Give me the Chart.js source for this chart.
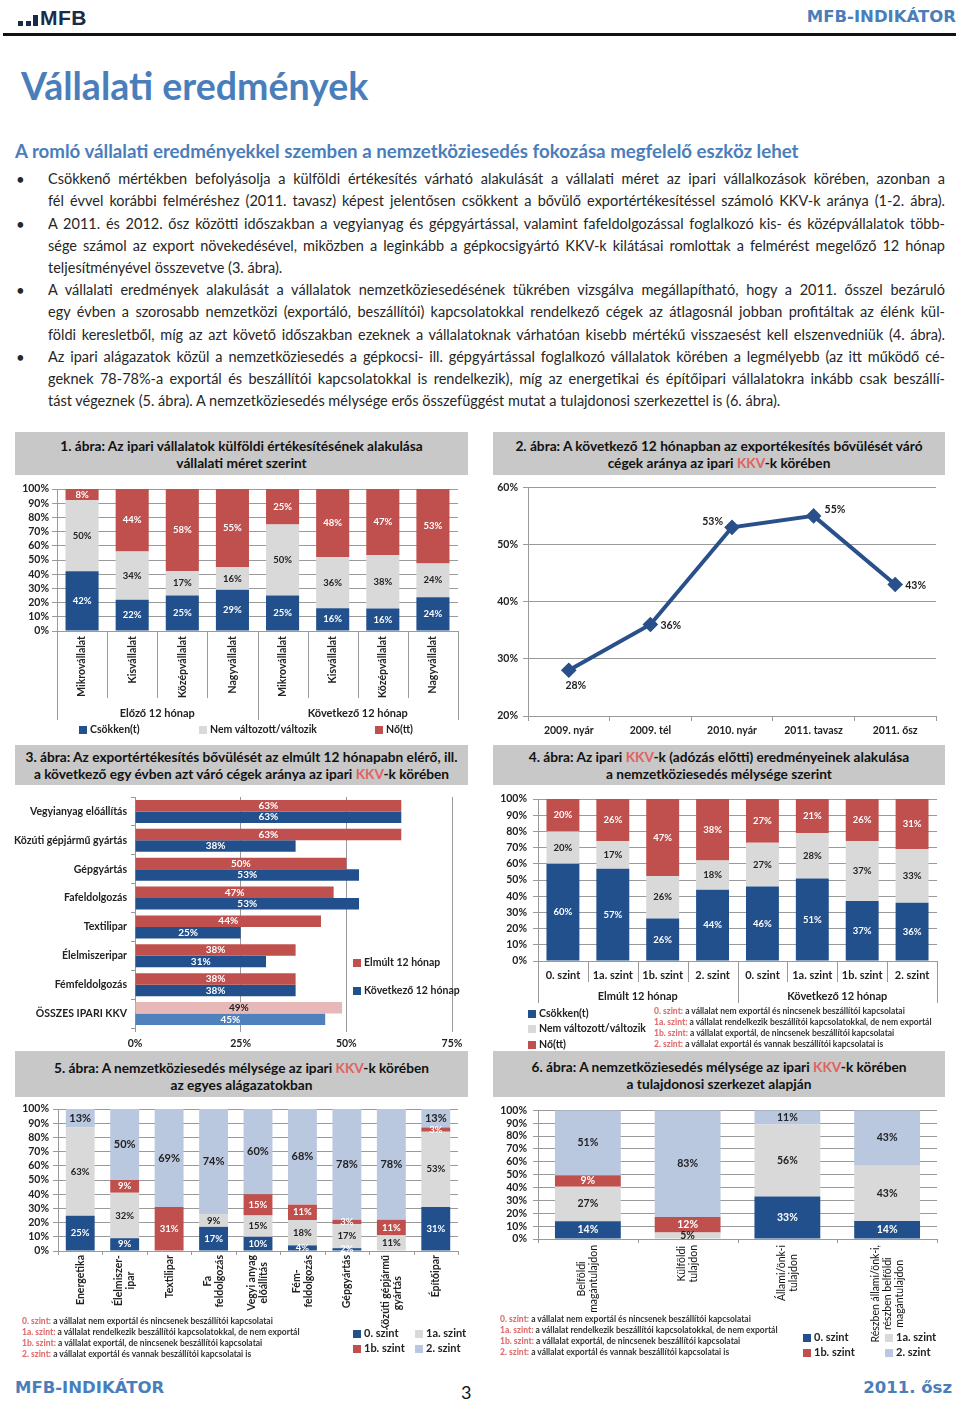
<!DOCTYPE html>
<html lang="hu"><head><meta charset="utf-8">
<script src="https://cdn.jsdelivr.net/npm/chart.js@4.4.1/dist/chart.umd.min.js"></script>
<style>
*{box-sizing:border-box}
html,body{margin:0;padding:0}
body{width:960px;height:1401px;position:relative;background:#fff;font-family:Lato,"Open Sans",sans-serif;color:#222;overflow:hidden}
.a{position:absolute;white-space:nowrap}
.hdr{font-family:"DejaVu Sans",Verdana,sans-serif;font-weight:bold;color:#4a7ebb;font-size:16.5px;line-height:18px}
.tbox{position:absolute;background:#c8c8c8;text-align:center;font-weight:bold;font-size:13.7px;line-height:17px;color:#111;white-space:nowrap}
.kkv{color:#e0625f}
.ln{position:absolute;left:48px;width:897px;height:22px;line-height:22px;font-size:14.5px;white-space:nowrap;text-align:justify;text-align-last:justify;color:#262626}
.ln.last{text-align-last:left}
.bul{position:absolute;left:16px;font-size:15px;line-height:22px;color:#262626}
canvas{position:absolute}
.lg{position:absolute;font-weight:bold;font-size:10.5px;line-height:12px;white-space:nowrap;color:#222}
.lg i{display:inline-block;width:8px;height:8px;margin-right:3px;vertical-align:-0.5px}
.fn{position:absolute;font-size:8.5px;font-weight:bold;line-height:11px;white-space:nowrap;color:#333}
.fn b{color:#e07070}
</style>
</head>
<body>
<!-- header -->
<div class="a" style="left:18px;top:21px;width:5px;height:5px;background:#1b2a47"></div>
<div class="a" style="left:26px;top:21px;width:5px;height:5px;background:#1b2a47"></div>
<div class="a" style="left:33px;top:15px;width:5px;height:11px;background:#1b2a47"></div>
<div class="a" style="left:40px;top:6px;font:bold 21px 'Liberation Sans',Arial,sans-serif;line-height:24px;color:#1b2a47;letter-spacing:0.5px">MFB</div>
<div class="a hdr" style="right:4px;top:8px">MFB-INDIKÁTOR</div>
<div class="a" style="left:3px;top:33px;width:953px;height:3px;background:#111"></div>

<div class="a" style="left:21px;top:62px;font-size:37.5px;font-weight:bold;color:#4a7ebb;line-height:48px">Vállalati eredmények</div>
<div class="a" style="left:15px;top:140px;font-size:18.7px;font-weight:bold;color:#4a7ebb;line-height:22px">A romló vállalati eredményekkel szemben a nemzetköziesedés fokozása megfelelő eszköz lehet</div>

<div class="bul" style="top:168px">•</div>
<div class="ln" style="top:168px">Csökkenő mértékben befolyásolja a külföldi értékesítés várható alakulását a vállalati méret az ipari vállalkozások körében, azonban a</div>
<div class="ln" style="top:190px">fél évvel korábbi felméréshez (2011. tavasz) képest jelentősen csökkent a bővülő exportértékesítéssel számoló KKV-k aránya (1-2. ábra).</div>
<div class="bul" style="top:213px">•</div>
<div class="ln" style="top:213px">A 2011. és 2012. ősz közötti időszakban a vegyianyag és gépgyártással, valamint fafeldolgozással foglalkozó kis- és középvállalatok több-</div>
<div class="ln" style="top:235px">sége számol az export növekedésével, miközben a leginkább a gépkocsigyártó KKV-k kilátásai romlottak a felmérést megelőző 12 hónap</div>
<div class="ln last" style="top:257px">teljesítményével összevetve (3. ábra).</div>
<div class="bul" style="top:279px">•</div>
<div class="ln" style="top:279px">A vállalati eredmények alakulását a vállalatok nemzetköziesedésének tükrében vizsgálva megállapítható, hogy a 2011. ősszel bezáruló</div>
<div class="ln" style="top:301px">egy évben a szorosabb nemzetközi (exportáló, beszállítói) kapcsolatokkal rendelkező cégek az átlagosnál jobban profitáltak az élénk kül-</div>
<div class="ln" style="top:324px">földi keresletből, míg az azt követő időszakban ezeknek a vállalatoknak várhatóan kisebb mértékű visszaesést kell elszenvedniük (4. ábra).</div>
<div class="bul" style="top:346px">•</div>
<div class="ln" style="top:346px">Az ipari alágazatok közül a nemzetköziesedés a gépkocsi- ill. gépgyártással foglalkozó vállalatok körében a legmélyebb (az itt működő cé-</div>
<div class="ln" style="top:368px">geknek 78-78%-a exportál és beszállítói kapcsolatokkal is rendelkezik), míg az energetikai és építőipari vállalatokra inkább csak beszállí-</div>
<div class="ln last" style="top:390px">tást végeznek (5. ábra). A nemzetköziesedés mélysége erős összefüggést mutat a tulajdonosi szerkezettel is (6. ábra).</div>

<!-- chart titles -->
<div class="tbox" style="left:15px;top:432px;width:453px;height:43px;padding-top:5px">1. ábra: Az ipari vállalatok  külföldi értékesítésének alakulása<br>vállalati méret szerint</div>
<div class="tbox" style="left:493px;top:432px;width:452px;height:43px;padding-top:5px">2. ábra: A következő 12 hónapban  az exportékesítés bővülését váró<br>cégek aránya az ipari <span class="kkv">KKV</span>-k körében</div>
<div class="tbox" style="left:15px;top:745px;width:453px;height:40px;padding-top:2.5px">3. ábra: Az exportértékesítés bővülését az elmúlt 12 hónapabn elérő, ill.<br>a következő egy évben azt váró cégek aránya az ipari <span class="kkv">KKV</span>-k körében</div>
<div class="tbox" style="left:493px;top:745px;width:452px;height:40px;padding-top:2.5px">4. ábra: Az ipari <span class="kkv">KKV</span>-k (adózás előtti) eredményeinek alakulása<br>a nemzetköziesedés  mélysége szerint</div>
<div class="tbox" style="left:15px;top:1051px;width:453px;height:46px;padding-top:7.5px">5. ábra: A nemzetköziesedés  mélysége az ipari <span class="kkv">KKV</span>-k körében<br>az egyes alágazatokban</div>
<div class="tbox" style="left:493px;top:1051px;width:452px;height:46px;padding-top:7px">6. ábra: A nemzetköziesedés  mélysége az ipari <span class="kkv">KKV</span>-k körében<br>a tulajdonosi  szerkezet alapján</div>

<canvas id="c1" width="455" height="250" style="left:15px;top:476px;width:455px;height:250px"></canvas>
<canvas id="c2" width="452" height="262" style="left:493px;top:476px;width:452px;height:262px"></canvas>
<canvas id="c3" width="470" height="265" style="left:5px;top:786px;width:470px;height:265px"></canvas>
<canvas id="c4" width="452" height="222" style="left:493px;top:786px;width:452px;height:222px"></canvas>
<canvas id="c5" width="455" height="230" style="left:15px;top:1098px;width:455px;height:230px"></canvas>
<canvas id="c6" width="452" height="245" style="left:493px;top:1098px;width:452px;height:245px"></canvas>

<!-- legends -->
<div class="lg" style="left:79px;top:723px"><i style="background:#22508c"></i>Csökken(t)</div>
<div class="lg" style="left:199px;top:723px"><i style="background:#d9d9d9"></i>Nem változott/változik</div>
<div class="lg" style="left:375px;top:723px"><i style="background:#c0504d"></i>Nő(tt)</div>

<div class="lg" style="left:353px;top:956px"><i style="background:#c0504d"></i>Elmúlt 12  hónap</div>
<div class="lg" style="left:353px;top:984px"><i style="background:#22508c"></i>Következő 12 hónap</div>

<div class="lg" style="left:528px;top:1007px;font-size:10.5px"><i style="background:#22508c"></i>Csökken(t)</div>
<div class="lg" style="left:528px;top:1022px;font-size:10.5px"><i style="background:#d9d9d9"></i>Nem változott/változik</div>
<div class="lg" style="left:528px;top:1038px;font-size:10.5px"><i style="background:#c0504d"></i>Nő(tt)</div>
<div class="fn" style="left:654px;top:1006px"><b>0. szint:</b> a vállalat  nem exportál és nincsenek beszállítói  kapcsolatai</div>
<div class="fn" style="left:654px;top:1017px"><b>1a. szint:</b> a vállalat  rendelkezik beszállítói  kapcsolatokkal,  de nem exportál</div>
<div class="fn" style="left:654px;top:1028px"><b>1b. szint:</b> a vállalat  exportál, de nincsenek beszállítói  kapcsolatai</div>
<div class="fn" style="left:654px;top:1039px"><b>2. szint:</b> a vállalat  exportál és vannak beszállítói  kapcsolatai  is</div>

<div class="fn" style="left:22px;top:1316px"><b>0. szint:</b> a vállalat  nem exportál és nincsenek beszállítói  kapcsolatai</div>
<div class="fn" style="left:22px;top:1327px"><b>1a. szint:</b> a vállalat  rendelkezik beszállítói  kapcsolatokkal,  de nem exportál</div>
<div class="fn" style="left:22px;top:1338px"><b>1b. szint:</b> a vállalat  exportál, de nincsenek beszállítói  kapcsolatai</div>
<div class="fn" style="left:22px;top:1349px"><b>2. szint:</b> a vállalat  exportál és vannak beszállítói  kapcsolatai  is</div>
<div class="lg" style="left:353px;top:1327px;font-size:11px"><i style="background:#22508c"></i>0. szint</div>
<div class="lg" style="left:415px;top:1327px;font-size:11px"><i style="background:#d9d9d9"></i>1a. szint</div>
<div class="lg" style="left:353px;top:1342px;font-size:11px"><i style="background:#c0504d"></i>1b. szint</div>
<div class="lg" style="left:415px;top:1342px;font-size:11px"><i style="background:#b9c7df"></i>2. szint</div>

<div class="fn" style="left:500px;top:1314px"><b>0. szint:</b> a vállalat  nem exportál és nincsenek beszállítói  kapcsolatai</div>
<div class="fn" style="left:500px;top:1325px"><b>1a. szint:</b> a vállalat  rendelkezik beszállítói  kapcsolatokkal,  de nem exportál</div>
<div class="fn" style="left:500px;top:1336px"><b>1b. szint:</b> a vállalat  exportál, de nincsenek beszállítói  kapcsolatai</div>
<div class="fn" style="left:500px;top:1347px"><b>2. szint:</b> a vállalat  exportál és vannak beszállítói  kapcsolatai  is</div>
<div class="lg" style="left:803px;top:1331px;font-size:11px"><i style="background:#22508c"></i>0. szint</div>
<div class="lg" style="left:885px;top:1331px;font-size:11px"><i style="background:#d9d9d9"></i>1a. szint</div>
<div class="lg" style="left:803px;top:1346px;font-size:11px"><i style="background:#c0504d"></i>1b. szint</div>
<div class="lg" style="left:885px;top:1346px;font-size:11px"><i style="background:#b9c7df"></i>2. szint</div>

<!-- footer -->
<div class="a hdr" style="left:15px;top:1379px">MFB-INDIKÁTOR</div>
<div class="a" style="left:461px;top:1381px;font-size:18px;line-height:22px;color:#111">3</div>
<div class="a hdr" style="right:8px;top:1379px">2011. ősz</div>

<script>
// ---------- DATA ----------
const c1Categories = ['Mikrovállalat','Kisvállalat','Középvállalat','Nagyvállalat','Mikrovállalat','Kisvállalat','Középvállalat','Nagyvállalat'];
const c1Groups = ['Előző 12 hónap','Következő 12 hónap'];
const c1Csokken = [42,22,25,29,25,16,16,24];
const c1NemValt = [50,34,17,16,50,36,38,24];
const c1No = [8,44,58,55,25,48,47,53];

const c2Periods = ['2009. nyár','2009. tél','2010. nyár','2011. tavasz','2011. ősz'];
const c2Share = [28,36,53,55,43];

const c3Sectors = ['Vegyianyag előállítás','Közúti gépjármű gyártás','Gépgyártás','Fafeldolgozás','Textilipar','Élelmiszeripar','Fémfeldolgozás','ÖSSZES IPARI KKV'];
const c3Elmult = [63,63,50,47,44,38,38,49];
const c3Kovetkezo = [63,38,53,53,25,31,38,45];

const c4Levels = ['0. szint','1a. szint','1b. szint','2. szint','0. szint','1a. szint','1b. szint','2. szint'];
const c4Groups = ['Elmúlt 12 hónap','Következő 12 hónap'];
const c4Csokken = [60,57,26,44,46,51,37,36];
const c4NemValt = [20,17,26,18,27,28,37,33];
const c4No = [20,26,47,38,27,21,26,31];

const c5Sectors = [['Energetika'],['Élelmiszer-','ipar'],['Textilipar'],['Fa','feldolgozás'],['Vegyi anyag','előállítás'],['Fém-','feldolgozás'],['Gépgyártás'],['Közúti gépjármű','gyártás'],['Építőipar']];
const c5Szint0 = [25,9,0,17,10,4,2,0,31];
const c5Szint1a = [63,32,0,9,15,18,17,11,53];
const c5Szint1b = [0,9,31,0,15,11,3,11,3];
const c5Szint2 = [13,50,69,74,60,68,78,78,13];

const c6Owners = [['Belföldi','magántulajdon'],['Külföldi','tulajdon'],['Állami/önk-i','tulajdon'],['Részben állami/önk-i,','részben belföldi','magántulajdon']];
const c6Szint0 = [14,0,33,14];
const c6Szint1a = [27,5,56,43];
const c6Szint1b = [9,12,0,0];
const c6Szint2 = [51,83,11,43];

// ---------- STYLE ----------
const BLUE='#22508c', GRAY='#d9d9d9', RED='#c0504d', LBLUE='#b9c7df', PINK='#e6b9b8', MBLUE='#4f81bd', LINE='#29508a';
const GRID='#9a9a9a';
const FF='Lato, "Open Sans", sans-serif';

// fit body lines
document.querySelectorAll('.ln').forEach(d => {
  const s=document.createElement('span'); s.textContent=d.textContent;
  s.style.cssText='position:absolute;visibility:hidden;white-space:nowrap;left:0;top:0';
  d.appendChild(s); const w=s.getBoundingClientRect().width; d.removeChild(s);
  if (w>895) d.style.letterSpacing=((895-w)/d.textContent.length)+'px';
});

function normalize(list){
  return list.map(s => s.map((v,i) => { const t=list.reduce((a,b)=>a+b[i],0); return t ? v/t*100 : 0; }));
}

const catCfg = {};
const catAxis = {
  id:'catAxis',
  afterDraw(chart){
    const o = catCfg[chart.canvas.id]; if(!o) return;
    const ctx=chart.ctx, xs=chart.scales.x, area=chart.chartArea;
    const labels=chart.data.labels, n=labels.length;
    const c=labels.map((_,i)=>xs.getPixelForValue(i));
    const step = n>1 ? c[1]-c[0] : area.right-area.left;
    const b=[]; for(let i=0;i<=n;i++) b.push(i<n ? c[i]-step/2 : c[n-1]+step/2);
    const y0=area.bottom;
    ctx.save();
    ctx.strokeStyle=GRID; ctx.lineWidth=1;
    const vline=(x,y1,y2)=>{const px=Math.round(x)+0.5; ctx.beginPath(); ctx.moveTo(px,y1); ctx.lineTo(px,y2); ctx.stroke();};
    b.forEach(x=>vline(x,y0,y0+o.sepLen));
    if(o.groups){ const k=n/o.groups.length; for(let g=0;g<=o.groups.length;g++) vline(b[g*k],y0,y0+o.groupSepLen); }
    ctx.fillStyle=o.color||'#222'; ctx.font=o.font;
    labels.forEach((lab,i)=>{
      const lines=Array.isArray(lab)?lab:[lab];
      if(o.rotated){
        const L=Math.max(...lines.map(t=>ctx.measureText(t).width));
        ctx.save(); ctx.translate(c[i], y0+o.labelOffset); ctx.rotate(-Math.PI/2);
        ctx.textAlign='center'; ctx.textBaseline='middle';
        lines.forEach((t,j)=>ctx.fillText(t,-L/2,(j-(lines.length-1)/2)*o.lineHeight));
        ctx.restore();
      } else {
        ctx.textAlign='center'; ctx.textBaseline='middle';
        ctx.fillText(lines[0], c[i], y0+o.labelOffset);
      }
    });
    if(o.groups){
      ctx.font=o.groupFont||o.font; ctx.textAlign='center'; ctx.textBaseline='middle';
      const k=n/o.groups.length;
      o.groups.forEach((g,gi)=>ctx.fillText(g,(b[gi*k]+b[(gi+1)*k])/2,y0+o.groupOffset));
    }
    ctx.restore();
  }
};

const valLabels = {
  id:'valLabels',
  afterDatasetsDraw(chart, args, o){
    if(!o || !o.enabled) return;
    const ctx=chart.ctx, horiz=chart.options.indexAxis==='y';
    chart.data.datasets.forEach((ds,di)=>{
      const meta=chart.getDatasetMeta(di);
      const shown=ds.shown||ds.data;
      meta.data.forEach((el,i)=>{
        const v=shown[i]; if(v==null||v===0) return;
        const p=el.getProps(['x','y','base'],true);
        let cx,cy,align='center';
        if(meta.type==='line'){ const lp=ds.labelPos[i]; cx=p.x+lp[0]; cy=p.y+lp[1]; align=lp[2]; }
        else if(horiz){ cx=(p.x+p.base)/2; cy=p.y; }
        else { cx=p.x; cy=(p.y+p.base)/2; }
        ctx.save();
        ctx.font=ds.labelFont||o.font;
        ctx.fillStyle=Array.isArray(ds.labelColor)?ds.labelColor[i]:ds.labelColor;
        ctx.textAlign=align; ctx.textBaseline='middle';
        ctx.fillText(Math.round(v)+'%',cx,cy);
        ctx.restore();
      });
    });
  }
};
Chart.register(catAxis, valLabels);

const tickFont = {family:FF,size:10.5,weight:'bold'};
function pctY(width,pad){ return {stacked:true,min:0,max:100,ticks:{stepSize:10,autoSkip:false,callback:v=>v+'%',font:tickFont,color:'#222',padding:pad},grid:{color:GRID,tickLength:5},border:{color:GRID},afterFit(s){s.width=width;}}; }
function hiddenX(h){ return {stacked:true,ticks:{display:false},grid:{display:false},border:{display:false},afterFit(s){s.height=h;}}; }
function baseOpts(pad, extra){ return Object.assign({responsive:false,animation:false,events:[],layout:{padding:pad},plugins:{legend:{display:false},tooltip:{enabled:false},valLabels:{enabled:true,font:'bold 9.5px '+FF}}}, extra); }

// Chart 1
const n1 = normalize([c1Csokken,c1NemValt,c1No]);
catCfg.c1 = {rotated:true,labelOffset:5,lineHeight:12,font:'bold 10.5px '+FF,sepLen:67,groups:c1Groups,groupSepLen:89,groupOffset:82,groupFont:'bold 11px '+FF};
new Chart(document.getElementById('c1'),{type:'bar',
  data:{labels:c1Categories,datasets:[
    {label:'Csökken(t)',data:n1[0],shown:c1Csokken,backgroundColor:BLUE,labelColor:'#fff'},
    {label:'Nem változott/változik',data:n1[1],shown:c1NemValt,backgroundColor:GRAY,labelColor:'#222'},
    {label:'Nő(tt)',data:n1[2],shown:c1No,backgroundColor:RED,labelColor:'#fff'}]},
  options:baseOpts({top:13,right:12,left:0,bottom:0},{datasets:{bar:{categoryPercentage:0.66,barPercentage:1}},scales:{x:hiddenX(95),y:pctY(42,3)}})
});

// Chart 2
new Chart(document.getElementById('c2'),{type:'line',
  data:{labels:c2Periods,datasets:[{label:'Bővülést várók',data:c2Share,borderColor:LINE,backgroundColor:LINE,borderWidth:4,pointStyle:'rectRot',pointRadius:5,pointBackgroundColor:LINE,pointBorderColor:LINE,
    labelPos:[[7,15,'center'],[10,1,'left'],[-9,-6,'right'],[11,-6,'left'],[10,1,'left']],labelColor:'#222',labelFont:'bold 10.5px '+FF}]},
  options:baseOpts({top:9,right:9,left:0,bottom:0},{scales:{
    x:{offset:true,grid:{offset:true,drawOnChartArea:false,color:GRID,tickLength:5},border:{color:GRID},ticks:{font:tickFont,color:'#222',padding:3,maxRotation:0},afterFit(s){s.height=22;}},
    y:{min:20,max:60,ticks:{stepSize:10,autoSkip:false,callback:v=>v+'%',font:tickFont,color:'#222',padding:5},grid:{color:GRID,tickLength:5},border:{color:GRID},afterFit(s){s.width=35;}}}})
});

// Chart 3
const last3 = c3Sectors.length-1;
new Chart(document.getElementById('c3'),{type:'bar',
  data:{labels:c3Sectors,datasets:[
    {label:'Elmúlt 12 hónap',data:c3Elmult,backgroundColor:c3Sectors.map((_,i)=>i===last3?PINK:RED),labelColor:c3Sectors.map((_,i)=>i===last3?'#222':'#fff')},
    {label:'Következő 12 hónap',data:c3Kovetkezo,backgroundColor:c3Sectors.map((_,i)=>i===last3?MBLUE:BLUE),labelColor:'#fff'}]},
  options:baseOpts({top:11,right:23,left:0,bottom:0},{indexAxis:'y',datasets:{bar:{categoryPercentage:0.8,barPercentage:1}},
    plugins:{legend:{display:false},tooltip:{enabled:false},valLabels:{enabled:true,font:'bold 10px '+FF}},
    scales:{
      x:{min:0,max:75,ticks:{stepSize:25,callback:v=>v+'%',font:tickFont,color:'#222',padding:5},grid:{color:GRID,tickLength:4},border:{display:false},afterFit(s){s.height=23;}},
      y:{grid:{offset:true,drawOnChartArea:false,color:GRID,tickLength:4},border:{color:GRID},ticks:{autoSkip:false,font:{family:FF,size:10.5,weight:'bold'},color:'#222',padding:4},afterFit(s){s.width=130;}}}})
});

// Chart 4
const n4 = normalize([c4Csokken,c4NemValt,c4No]);
catCfg.c4 = {rotated:false,labelOffset:14,font:'bold 11px '+FF,sepLen:21,groups:c4Groups,groupSepLen:42,groupOffset:35,groupFont:'bold 11px '+FF};
new Chart(document.getElementById('c4'),{type:'bar',
  data:{labels:c4Levels,datasets:[
    {label:'Csökken(t)',data:n4[0],shown:c4Csokken,backgroundColor:BLUE,labelColor:'#fff'},
    {label:'Nem változott/változik',data:n4[1],shown:c4NemValt,backgroundColor:GRAY,labelColor:'#222'},
    {label:'Nő(tt)',data:n4[2],shown:c4No,backgroundColor:RED,labelColor:'#fff'}]},
  options:baseOpts({top:13,right:8,left:0,bottom:0},{datasets:{bar:{categoryPercentage:0.66,barPercentage:1}},scales:{x:hiddenX(47),y:pctY(45,6)}})
});

// Chart 5
const n5 = normalize([c5Szint0,c5Szint1a,c5Szint1b,c5Szint2]);
catCfg.c5 = {rotated:true,labelOffset:4,lineHeight:12,font:'bold 10.5px '+FF,sepLen:4};
new Chart(document.getElementById('c5'),{type:'bar',
  data:{labels:c5Sectors,datasets:[
    {label:'0. szint',data:n5[0],shown:c5Szint0,backgroundColor:BLUE,labelColor:'#fff'},
    {label:'1a. szint',data:n5[1],shown:c5Szint1a,backgroundColor:GRAY,labelColor:'#222'},
    {label:'1b. szint',data:n5[2],shown:c5Szint1b,backgroundColor:RED,labelColor:'#fff'},
    {label:'2. szint',data:n5[3],shown:c5Szint2,backgroundColor:LBLUE,labelColor:'#222',labelFont:'bold 11px '+FF}]},
  options:baseOpts({top:11,right:12,left:0,bottom:0},{datasets:{bar:{categoryPercentage:0.65,barPercentage:1}},scales:{x:hiddenX(77),y:pctY(43,4)}})
});

// Chart 6
const n6 = normalize([c6Szint0,c6Szint1a,c6Szint1b,c6Szint2]);
catCfg.c6 = {rotated:true,labelOffset:6,lineHeight:12,font:'10.5px '+FF,color:'#111',sepLen:4};
new Chart(document.getElementById('c6'),{type:'bar',
  data:{labels:c6Owners,datasets:[
    {label:'0. szint',data:n6[0],shown:c6Szint0,backgroundColor:BLUE,labelColor:'#fff'},
    {label:'1a. szint',data:n6[1],shown:c6Szint1a,backgroundColor:GRAY,labelColor:'#222'},
    {label:'1b. szint',data:n6[2],shown:c6Szint1b,backgroundColor:RED,labelColor:'#fff'},
    {label:'2. szint',data:n6[3],shown:c6Szint2,backgroundColor:LBLUE,labelColor:'#222'}]},
  options:baseOpts({top:11,right:8,left:0,bottom:0},{datasets:{bar:{categoryPercentage:0.66,barPercentage:1}},
    plugins:{legend:{display:false},tooltip:{enabled:false},valLabels:{enabled:true,font:'bold 10.5px '+FF}},
    scales:{x:hiddenX(104),y:pctY(45,6)}})
});
</script>
</body></html>
